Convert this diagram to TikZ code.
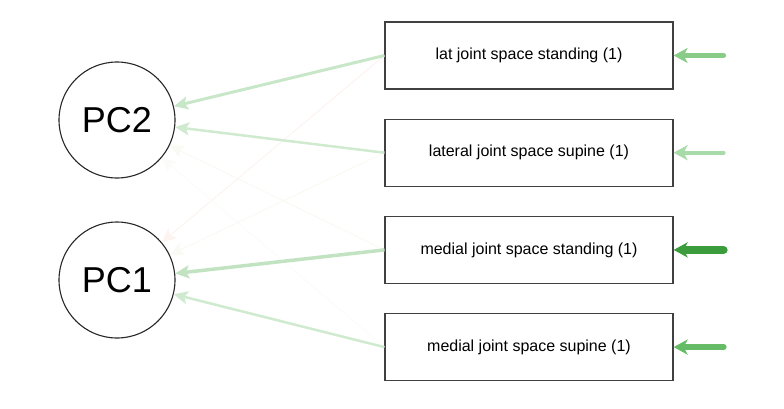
\documentclass[tikz,border=0pt]{standalone}
\usepackage{fontspec}
\setmainfont{Liberation Sans}
\usetikzlibrary{arrows.meta,positioning}

\definecolor{loadA}{HTML}{C8E7C8}
\definecolor{loadB}{HTML}{D0EAD0}
\definecolor{loadC}{HTML}{C2E3C2}
\definecolor{faintR}{HTML}{FDF3EF}
\definecolor{faintG}{HTML}{F8FAF3}
\definecolor{residA}{HTML}{88CC88}
\definecolor{residB}{HTML}{A8DBA8}
\definecolor{residC}{HTML}{3A9C3A}
\definecolor{residD}{HTML}{66BB66}

\begin{document}
\begin{tikzpicture}[x=1pt,y=-1pt,
  var/.style={draw=black!75,line width=1.2pt,minimum width=288pt,minimum height=67pt,inner sep=0pt,font=\fontsize{16}{19}\selectfont},
  pc/.style={circle,draw=black!85,line width=1.1pt,minimum size=116pt,inner sep=0pt,font=\fontsize{36}{42}\selectfont},
  load/.style={-{Stealth[length=14pt,width=13pt,inset=3pt]}},
  resid/.style={-{Stealth[length=14pt,width=15pt,inset=4pt]},line cap=round}]
\useasboundingbox (0,0) rectangle (784,408);
\node[pc] (pc2) at (117,120) {PC2};
\node[pc] (pc1) at (117,280) {PC1};
\node[var] (v1) at (529,55.5) {lat joint space standing (1)};
\node[var,below=29pt of v1] (v2) {lateral joint space supine (1)};
\node[var,below=29pt of v2] (v3) {medial joint space standing (1)};
\node[var,below=29pt of v3] (v4) {medial joint space supine (1)};
% weak loadings
\path[load,line width=1pt]
(v1.west) edge[faintR] (pc1)
(v2.west) edge[faintG] (pc1)
(v3.west) edge[faintG] (pc2)
(v4.west) edge[faintG!50] (pc2)
;
% main loadings
\path[load]
(v1.west) edge[loadA,line width=3pt] (pc2)
(v2.west) edge[loadB,line width=2.5pt] (pc2)
(v3.west) edge[loadC,line width=3.5pt] (pc1)
(v4.west) edge[loadB,line width=2.5pt] (pc1)
;
% residuals
\coordinate (r1) at ([xshift=50pt]v1.east);
\coordinate (r2) at ([xshift=50pt]v2.east);
\coordinate (r3) at ([xshift=50pt]v3.east);
\coordinate (r4) at ([xshift=50pt]v4.east);
\path[resid]
(r1) edge[residA,line width=5pt] (v1.east)
(r2) edge[residB,line width=4pt] (v2.east)
(r3) edge[residC,line width=8pt] (v3.east)
(r4) edge[residD,line width=6pt] (v4.east)
;
\end{tikzpicture}
\end{document}
